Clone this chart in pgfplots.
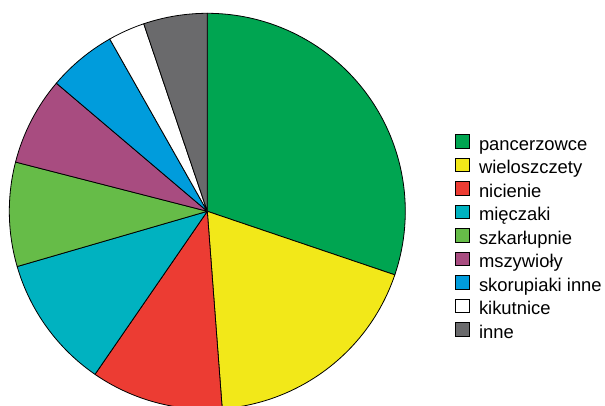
\documentclass[border=0pt]{standalone}
\usepackage{pgfplots}
\pgfplotsset{compat=1.18}
\usepackage{pgfplotstable}
\usepackage{fontspec}
\setmainfont{Liberation Sans}

\definecolor{cA}{RGB}{0,165,81}
\definecolor{cB}{RGB}{242,232,25}
\definecolor{cC}{RGB}{236,60,51}
\definecolor{cD}{RGB}{0,178,192}
\definecolor{cE}{RGB}{102,188,72}
\definecolor{cF}{RGB}{168,76,128}
\definecolor{cG}{RGB}{0,156,220}
\definecolor{cH}{RGB}{255,255,255}
\definecolor{cI}{RGB}{106,106,108}

\pgfplotstableread[col sep=comma]{
name,value,colour
pancerzowce,30.2,cA
wieloszczety,18.6,cB
nicienie,10.8,cC
mięczaki,10.9,cD
szkarłupnie,8.5,cE
mszywioły,7.2,cF
skorupiaki inne,5.6,cG
kikutnice,3.0,cH
inne,5.2,cI
}\piedata

\begin{document}
\begin{tikzpicture}
% cumulative angles from the table (clockwise from the top)
\def\cum{0}
\pgfplotsforeachungrouped \i in {0,...,8}{%
  \pgfplotstablegetelem{\i}{value}\of\piedata
  \let\val\pgfplotsretval
  \pgfmathsetmacro\sa{90-3.6*\cum}%
  \pgfmathsetmacro\cum{\cum+\val}%
  \pgfmathsetmacro\ea{90-3.6*\cum}%
  \expandafter\xdef\csname sa\i\endcsname{\sa}%
  \expandafter\xdef\csname ea\i\endcsname{\ea}%
  \pgfplotstablegetelem{\i}{colour}\of\piedata
  \expandafter\xdef\csname col\i\endcsname{\pgfplotsretval}%
  \pgfplotstablegetelem{\i}{name}\of\piedata
  \expandafter\xdef\csname nm\i\endcsname{\pgfplotsretval}%
}
\begin{axis}[
  scale only axis,
  width=605pt, height=405pt,
  xmin=-1.0470, xmax=2.0086,
  ymin=-0.9783, ymax=1.0672,
  hide axis,
  clip=true,
  legend image code/.code={\draw[#1] (0pt,-2.6pt) rectangle (13.4pt,10.8pt);},
  legend style={
    at={(axis cs:1.251,0.3904)}, anchor=north west,
    draw=none, fill=none, inner sep=0pt,
    font=\fontsize{18.4}{22}\selectfont,
    row sep=3.65pt, column sep=9.3pt,
    nodes={inner sep=0pt, text height=13pt, text depth=4pt},
    cells={anchor=west},
  },
]
\pgfplotsinvokeforeach{0,...,8}{%
  \edef\temp{\noexpand\draw[fill=\csname col#1\endcsname, draw=black, line width=0.8pt, line join=round]
    (axis cs:0,0) -- (axis cs:{cos(\csname sa#1\endcsname)},{sin(\csname sa#1\endcsname)})
    arc[start angle=\csname sa#1\endcsname, end angle=\csname ea#1\endcsname, radius=198pt] -- cycle;}%
  \temp
}
\pgfplotsinvokeforeach{0,...,8}{%
  \edef\temp{\noexpand\addlegendimage{fill=\csname col#1\endcsname, draw=black, line width=1.1pt}}\temp
  \edef\temp{\noexpand\addlegendentry{\csname nm#1\endcsname}}\temp
}
\end{axis}
\pgfresetboundingbox
\path (current axis.south west) rectangle (current axis.north east);
\end{tikzpicture}
\end{document}
